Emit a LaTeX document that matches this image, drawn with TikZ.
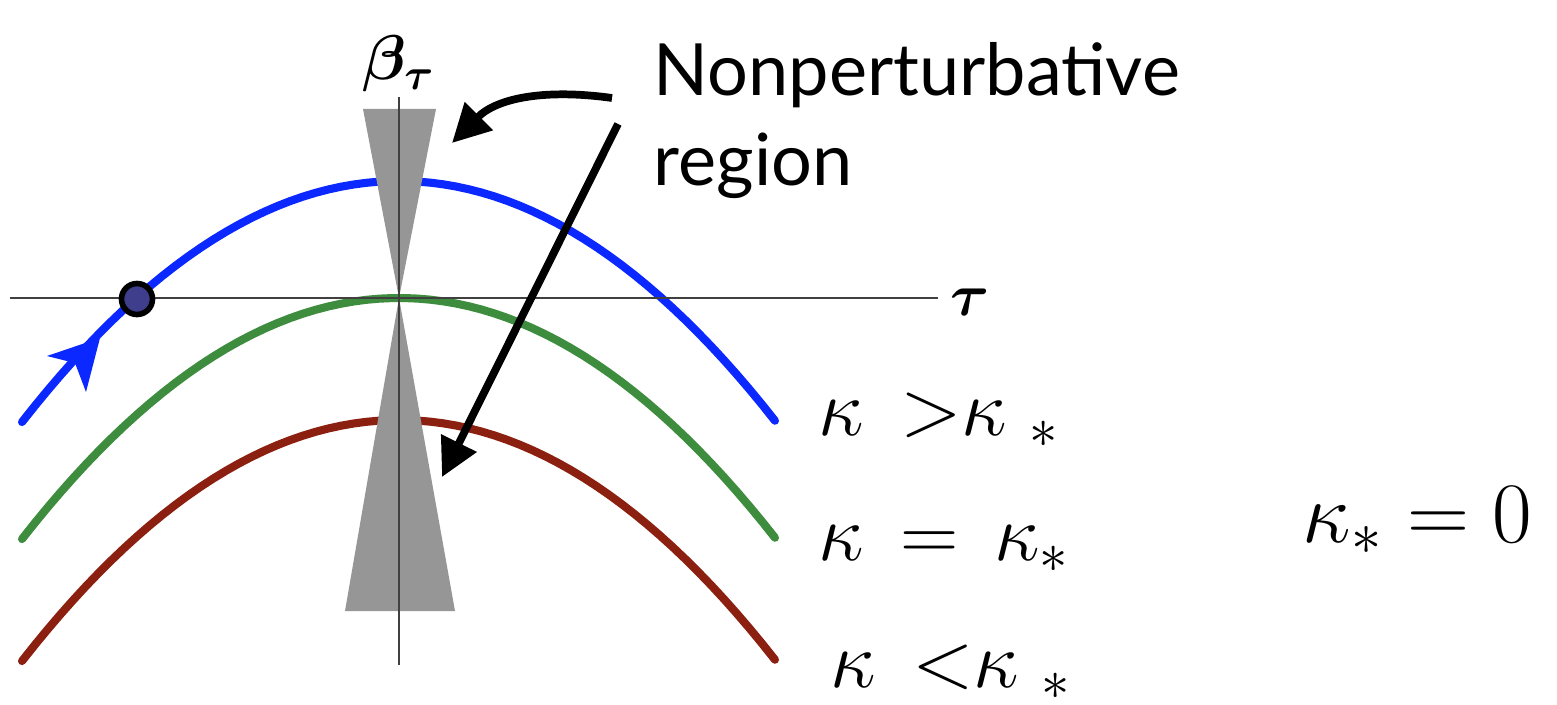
\RequirePackage{fix-cm}
\documentclass[tikz,border=0pt]{standalone}
\usepackage{fontspec}
\usepackage{bm}
\usetikzlibrary{arrows.meta}
\newfontfamily\notafont{Lato}
\definecolor{azul}{RGB}{10,40,255}
\definecolor{verde}{RGB}{62,140,62}
\definecolor{rojo}{RGB}{140,32,16}
\definecolor{gris}{RGB}{150,150,150}
\definecolor{punto}{RGB}{62,62,140}

\begin{document}
\begin{tikzpicture}[
        curva/.style={line width=2.3pt, line cap=round},
        eje/.style={line width=0.7pt, black!75},
        zona/.style={fill=gris},
        flecha/.style={-{Triangle[length=0.38cm,width=0.38cm]}, line width=2.2pt},
        etiqueta/.style={font=\fontsize{23}{23}\selectfont, inner sep=0pt, anchor=base west}
    ]
    \useasboundingbox (0,0) rectangle (15.57,7.04);

    % trayectorias
    \draw[curva, azul] plot[domain=0.22:7.75, samples=60] (\x, {5.23-0.1696*(\x-3.99)*(\x-3.99)});
    \draw[curva, verde] plot[domain=0.22:7.75, samples=60] (\x, {4.06-0.1696*(\x-3.99)*(\x-3.99)});
    \draw[curva, rojo] plot[domain=0.22:7.75, samples=60] (\x, {2.84-0.1696*(\x-3.99)*(\x-3.99)});

    % zonas no perturbativas
    \fill[zona] (3.63,5.95) -- (4.36,5.95) -- (3.99,4.06) -- cycle;
    \fill[zona] (3.45,0.93) -- (4.55,0.93) -- (3.99,4.06) -- cycle;

    % ejes
    \draw[eje] (0.10,4.06) -- (9.38,4.06);
    \draw[eje] (3.99,0.39) -- (3.99,6.07);
    \node (tau) at (9.70,4.02) {\fontsize{17}{17}\selectfont$\bm{\tau}$};
    \node (beta) at (3.99,6.40) {\fontsize{18}{18}\selectfont$\bm{\beta}_{\bm{\tau}}$};

    % punto y sentido del flujo
    \fill[azul] (1.00,3.66) -- (0.47,3.48) -- (0.75,3.41) -- (0.86,3.12) -- cycle;
    \node[circle, draw, line width=1.6pt, fill=punto, minimum size=0.31cm, inner sep=0pt] (estado) at (1.37,4.05) {};

    % nota
    \node[font=\notafont\fontsize{20.5}{25.6}\selectfont, align=left, inner sep=0pt, anchor=north west] (nota) at (6.53,6.62) {Nonperturbative\\region};
    \coordinate (salida1) at (6.12,6.06);
    \coordinate (salida2) at (6.18,5.80);
    \coordinate (cima) at (4.52,5.61);
    \coordinate (base) at (4.42,2.27);
    \draw[flecha] (salida1) to[out=172, in=45] (cima);
    \draw[flecha] (salida2) -- (base);

    % valores de kappa
    \node[etiqueta] (mayor) at (8.18,2.69) {$\kappa\;\,{>}\kappa\;{}_{*}$};
    \node[etiqueta] (igual) at (8.18,1.44) {$\kappa\mkern3mu = \mkern3mu\kappa_{*}$};
    \node[etiqueta] (menor) at (8.30,0.17) {$\kappa\;\,{<}\kappa\;{}_{*}$};
    \node[etiqueta, font=\fontsize{24.5}{24.5}\selectfont] (cero) at (13.02,1.62) {$\kappa_{*} = 0$};
\end{tikzpicture}
\end{document}
